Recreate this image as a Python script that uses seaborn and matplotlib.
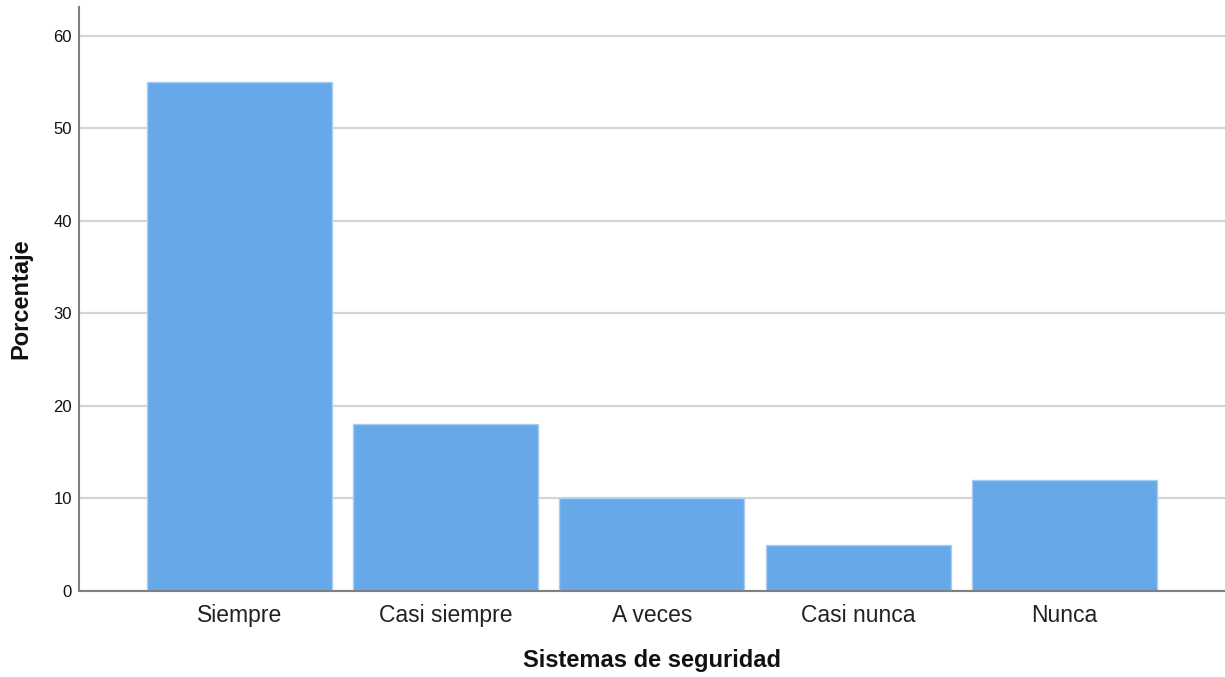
import pandas as pd
import matplotlib
matplotlib.use('Agg')
import matplotlib.pyplot as plt
import seaborn as sns

categorias = ['Siempre', 'Casi siempre', 'A veces', 'Casi nunca', 'Nunca']
porcentajes = [55, 18, 10, 5, 12]

datos = pd.DataFrame({'categoria': categorias, 'porcentaje': porcentajes})

sns.set_style('white')
plt.rcParams['font.family'] = ['Liberation Sans', 'DejaVu Sans']

fig = plt.figure(figsize=(12.25, 6.77), dpi=100)
ax = fig.add_axes([0.0645, 0.127, 0.9355, 0.8627])

ax.set_axisbelow(True)
ax.yaxis.grid(True, color='#d4d4d4', linewidth=1.6)

sns.barplot(
    x='categoria',
    y='porcentaje',
    data=datos,
    color='#66a8e8',
    saturation=1,
    width=0.897,
    edgecolor='#a9cdf0',
    linewidth=1,
    ax=ax)

ax.set_ylim(0, 63.1)
ax.set_xlim(-0.776, 4.778)
ax.set_yticks([0, 10, 20, 30, 40, 50, 60])

for s in ['top', 'right']:
    ax.spines[s].set_visible(False)
for s in ['left', 'bottom']:
    ax.spines[s].set_color('#808080')
    ax.spines[s].set_linewidth(1.5)

ax.tick_params(axis='y', labelsize=12, length=0, pad=5, labelcolor='#111111')
ax.tick_params(axis='x', labelsize=16.5, length=0, pad=9, labelcolor='#222222')

ax.set_xlabel('Sistemas de seguridad', fontsize=17, fontweight='bold', labelpad=16, color='#111111')
ax.set_ylabel('Porcentaje', fontsize=17, fontweight='bold', labelpad=15, color='#111111')

fig.savefig('out.png', dpi=100)
